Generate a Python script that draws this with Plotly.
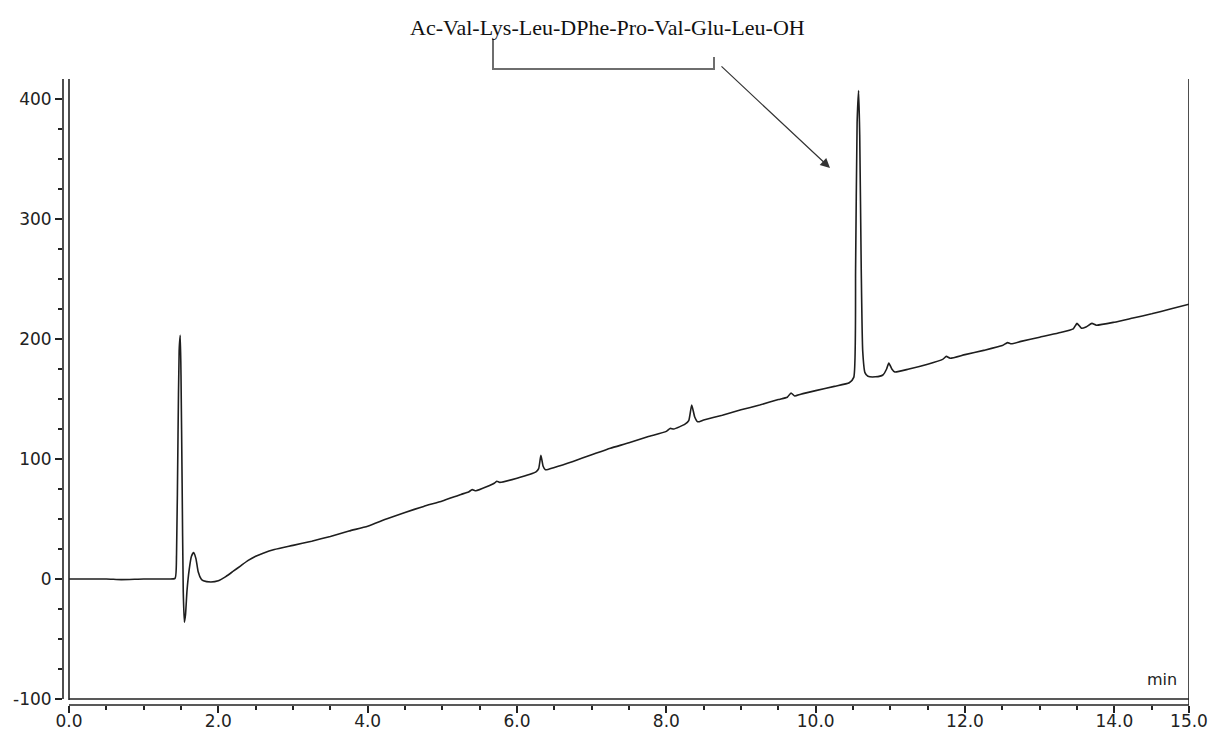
import plotly.graph_objects as go

# Chromatogram trace (time in min, signal)
time_min = [0.0, 0.5, 0.7, 1.0, 1.3, 1.42,
            1.44, 1.46, 1.475, 1.49, 1.50, 1.515, 1.53, 1.545, 1.56, 1.58, 1.61, 1.64, 1.67, 1.70, 1.73, 1.77, 1.80, 1.9,
            2.0, 2.1, 2.2, 2.3, 2.4, 2.5, 2.6, 2.75, 3.0, 3.25, 3.5, 3.75, 4.0, 4.25, 4.5, 4.75, 5.0, 5.25,
            5.35, 5.4, 5.45, 5.6, 5.7, 5.73, 5.77, 6.0, 6.25, 6.29, 6.32, 6.35, 6.38, 6.5, 6.75, 7.0, 7.25,
            7.5, 7.75, 8.0, 8.05, 8.1, 8.25, 8.3, 8.34, 8.38, 8.42, 8.5, 8.75, 9.0, 9.25, 9.5, 9.62, 9.67,
            9.72, 9.8, 10.0, 10.25, 10.45, 10.51, 10.535, 10.555, 10.575, 10.59, 10.61, 10.63, 10.66, 10.7,
            10.8, 10.9, 10.95, 10.98, 11.02, 11.06, 11.25, 11.5, 11.7, 11.75, 11.8, 12.0, 12.25, 12.5, 12.57,
            12.62, 12.75, 13.0, 13.25, 13.45, 13.5, 13.56, 13.62, 13.7, 13.76, 14.0, 14.25, 14.5, 14.75, 15.0]
signal = [0.0, 0.0, -0.5, 0.0, 0.0, 0.5,
          20, 120, 190, 203, 170, 80, -10, -36, -30, -10, 8, 19, 22, 17, 6, 0, -1.5, -2.5,
          -1.5, 2, 6.5, 11, 15.5, 19, 21.5, 24.5, 28, 31.5, 35.5, 40, 44, 50, 55.5, 60.5, 65, 70.5,
          72.5, 74.5, 73.5, 77, 80, 81.5, 80.5, 84, 89, 92, 103, 94, 91, 93, 98, 103.5, 109,
          113.5, 118.5, 123, 125.5, 125, 129, 132, 145, 135, 131, 132.5, 136.5, 141, 145, 149.5, 151.5, 155,
          152.5, 154, 157, 160.5, 163.5, 168, 260, 380, 407, 370, 260, 190, 172, 169,
          168.5, 170, 175, 180, 175, 172.5, 175, 179, 183, 185.5, 184, 187, 190.5, 194.5, 197,
          196, 198, 201.5, 205, 208.5, 213, 209, 210, 213, 211.5, 214, 217.5, 221, 225, 229]

x_tick_vals = [0, 2, 4, 6, 8, 10, 12, 14, 15]
x_tick_text = ["0.0", "2.0", "4.0", "6.0", "8.0", "10.0", "12.0", "14.0", "15.0"]
y_tick_vals = [-100, 0, 100, 200, 300, 400]
y_tick_text = ["-100", "0", "100", "200", "300", "400"]

peptide = "Ac-Val-Lys-Leu-DPhe-Pro-Val-Glu-Leu-OH"

X0, X1 = -0.0804, 15.0
Y0, Y1 = -105.0, 416.67
L, R, T, B = 63, 21, 79, 30
W, H = 1210, 735
PW, PH = W - L - R, H - T - B


def px(xpix):
    return (xpix - L) / PW


def py(ypix):
    return (H - B - ypix) / PH


line_col = "#222222"
tick_font = dict(family="DejaVu Sans, Liberation Sans, Arial, sans-serif", size=17, color="#222222")

fig = go.Figure()
fig.add_trace(go.Scatter(x=time_min, y=signal, mode="lines",
                         line=dict(color="#1e1e1e", width=1.6, shape="spline", smoothing=0.5),
                         hoverinfo="skip", showlegend=False))

fig.update_layout(
    width=W, height=H,
    margin=dict(l=L, r=R, t=T, b=B, pad=0, autoexpand=False),
    paper_bgcolor="white", plot_bgcolor="white",
    showlegend=False,
    xaxis=dict(range=[X0, X1], showgrid=False, zeroline=False, showline=False, automargin=False,
               tickmode="array", tickvals=x_tick_vals, ticktext=x_tick_text,
               ticks="outside", ticklen=7, tickwidth=1.5, tickcolor=line_col,
               tickfont=tick_font, ticklabelstandoff=-6,
               minor=dict(tickmode="linear", tick0=0, dtick=0.5, ticks="outside",
                          ticklen=4, tickwidth=1.5, tickcolor=line_col, showgrid=False)),
    yaxis=dict(range=[Y0, Y1], showgrid=False, zeroline=False, showline=False, automargin=False,
               tickmode="array", tickvals=y_tick_vals, ticktext=y_tick_text,
               ticks="outside", ticklen=7, tickwidth=1.5, tickcolor=line_col,
               tickfont=tick_font,
               minor=dict(tickmode="linear", tick0=0, dtick=25, ticks="outside",
                          ticklen=4, tickwidth=1.5, tickcolor=line_col, showgrid=False)),
)

shapes = []
# y axis line (offset left)
shapes.append(dict(type="line", xref="paper", yref="y", x0=0, x1=0, y0=-100, y1=Y1,
                   line=dict(color=line_col, width=1.6)))
# x axis line (offset below)
shapes.append(dict(type="line", xref="x", yref="paper", x0=0, x1=15, y0=0, y1=0,
                   line=dict(color=line_col, width=1.6)))
# frame: left, bottom, right
shapes.append(dict(type="line", xref="x", yref="paper", x0=0, x1=0, y0=py(700), y1=1,
                   line=dict(color=line_col, width=1.6)))
shapes.append(dict(type="line", xref="x", yref="y", x0=0, x1=15, y0=-100, y1=-100,
                   line=dict(color=line_col, width=1.6)))
shapes.append(dict(type="line", xref="x", yref="paper", x0=15, x1=15, y0=0, y1=1,
                   line=dict(color=line_col, width=1.6)))
# bracket under the peptide name
shapes.append(dict(type="path", xref="paper", yref="paper",
                   path=f"M {px(493)} {py(39)} L {px(493)} {py(69)} L {px(714)} {py(69)} L {px(714)} {py(57)}",
                   line=dict(color="#6e6e6e", width=2)))
fig.update_layout(shapes=shapes)

fig.add_annotation(xref="paper", yref="paper", x=px(607), y=py(27), text=peptide,
                   showarrow=False, xanchor="center", yanchor="middle",
                   font=dict(family="Liberation Serif, Times New Roman, serif", size=22, color="#111111"))
# arrow pointing at the main peak
fig.add_annotation(xref="paper", yref="paper", x=px(830), y=py(168), ax=720 - 830, ay=65 - 168,
                   axref="pixel", ayref="pixel", text="", showarrow=True,
                   arrowhead=2, arrowsize=1.6, arrowwidth=1.2, arrowcolor="#333333")
fig.add_annotation(xref="paper", yref="paper", x=px(1179), y=py(679), text="min",
                   showarrow=False, xanchor="right", yanchor="middle",
                   font=dict(family="DejaVu Sans, Liberation Sans, Arial, sans-serif", size=16, color="#222222"))

fig.write_html("out.html")
